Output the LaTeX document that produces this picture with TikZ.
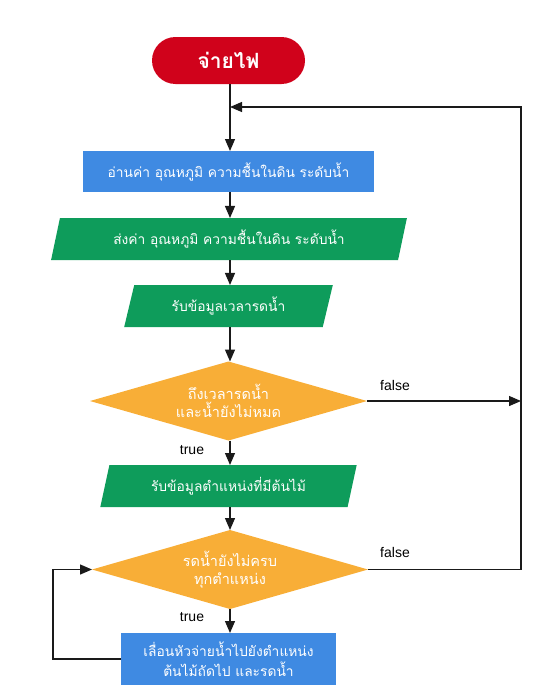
\documentclass[tikz,border=0pt]{standalone}
\usepackage{fontspec}
\setmainfont{Liberation Sans}
\newfontfamily\thaifont[Script=Thai]{Loma}
\usetikzlibrary{shapes.geometric,arrows.meta}
\definecolor{cred}{HTML}{D0021B}
\definecolor{cblue}{HTML}{3F8AE2}
\definecolor{cgreen}{HTML}{0E9C5B}
\definecolor{corange}{HTML}{F8AE37}
\definecolor{cline}{HTML}{1A1A1A}
\tikzset{
  every node/.style={inner sep=0pt, outer sep=0pt},
  startbox/.style={fill=cred, rounded corners=23.5pt, minimum width=153pt, minimum height=47pt, text=white, font=\thaifont\bfseries\fontsize{21}{24}\selectfont},
  procbox/.style={fill=cblue, minimum height=41pt, text=white, align=center, font=\thaifont\fontsize{13.8}{20}\selectfont},
  iobox/.style={trapezium, trapezium stretches=true, trapezium left angle=71.6, trapezium right angle=108.4, fill=cgreen, minimum height=42pt, text=white, font=\thaifont\fontsize{13.8}{18}\selectfont},
  decbox/.style={diamond, fill=corange, minimum width=277pt, minimum height=79pt},
  dectext/.style={text=white, align=center, font=\thaifont\fontsize{14.5}{18}\selectfont},
  lbl/.style={font=\fontsize{14}{16}\selectfont, text=black},
  conn/.style={draw=cline, line width=1.3pt, -{Triangle[length=12pt,width=10pt]}},
}
\begin{document}
\begin{tikzpicture}[x=1pt,y=-1pt]
\useasboundingbox (0,0) rectangle (533,696);
\node[startbox] (start) at (228.5,60.5) {จ่ายไฟ};
\node[procbox, minimum width=291pt] (read) at (228.5,171.5) {อ่านค่า อุณหภูมิ ความชื้นในดิน ระดับน้ำ};
\node[iobox, minimum width=356pt] (send) at (229,239) {ส่งค่า อุณหภูมิ ความชื้นในดิน ระดับน้ำ};
\node[iobox, minimum width=209pt] (time) at (228.5,306) {รับข้อมูลเวลารดน้ำ};
\node[decbox] (d1) at (228.5,401) {};
\node[dectext] at (d1) {ถึงเวลารดน้ำ\\และน้ำยังไม่หมด};
\node[iobox, minimum width=257pt] (pos) at (228.5,486) {รับข้อมูลตำแหน่งที่มีต้นไม้};
\node[decbox, minimum width=276pt] (d2) at (230,569.5) {};
\node[dectext] at (d2) {รดน้ำยังไม่ครบ\\ทุกตำแหน่ง};
\node[procbox, minimum width=215pt, minimum height=52pt] (move) at (228.5,659) {เลื่อนหัวจ่ายน้ำไปยังตำแหน่ง\\ต้นไม้ถัดไป และรดน้ำ};

\coordinate (merge) at (230,107);
\coordinate (rtop) at (521,107);
\coordinate (rmid) at (521,401);
\coordinate (rbot) at (521,569.5);
\coordinate (lbot) at (53,659);
\coordinate (ltop) at (53,569.5);

\draw[conn] (start.south -| merge) -- (read.north -| merge);
\draw[conn] (read.south -| merge) -- (send.north -| merge);
\draw[conn] (send.south -| merge) -- (time.north -| merge);
\draw[conn] (time.south -| merge) -- (d1.north -| merge);
\draw[conn] (d1.south -| merge) -- (pos.north -| merge);
\draw[conn] (pos.south -| merge) -- (d2.north -| merge);
\draw[conn] (d2.south -| merge) -- (move.north -| merge);

\draw[conn] (d1.east) -- (rmid);
\draw[conn] (d2.east) -- (rbot) -- (rtop) -- (merge);
\draw[conn] (move.west) -- (lbot) -- (ltop) -- (d2.west);

\node[lbl] (f1) at (395,385) {false};
\node[lbl] (f2) at (395,552) {false};
\node[lbl] (t1) at (192,450) {true};
\node[lbl] (t2) at (192,617) {true};
\end{tikzpicture}
\end{document}
